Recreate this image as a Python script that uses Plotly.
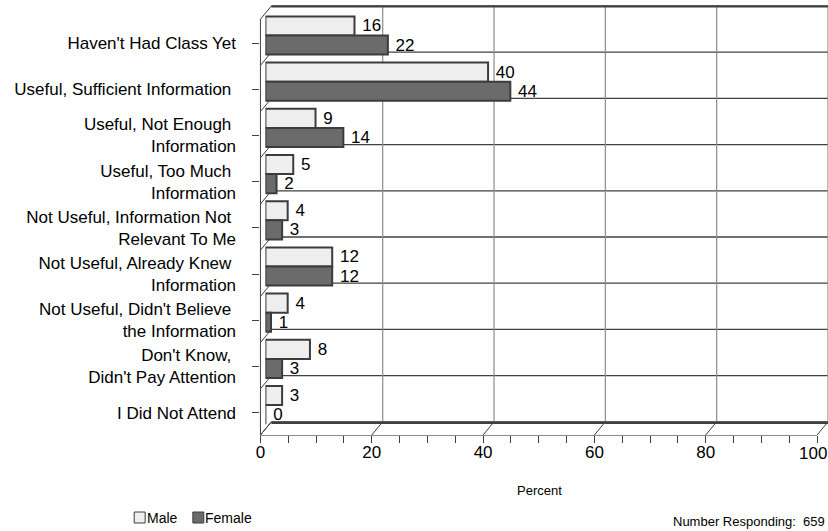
import plotly.graph_objects as go

NB = "\u00a0"
categories = [
    "Haven't Had Class Yet",
    "Useful, Sufficient Information" + NB,
    "Useful, Not Enough" + NB + "<br>Information",
    "Useful, Too Much" + NB + "<br>Information",
    "Not Useful, Information Not" + NB + "<br>Relevant To Me",
    "Not Useful, Already Knew" + NB + "<br>Information",
    "Not Useful, Didn't Believe" + NB + "<br>the Information",
    "Don't Know," + NB + "<br>Didn't Pay Attention",
    "I Did Not Attend",
]
male = [16, 40, 9, 5, 4, 12, 4, 8, 3]
female = [22, 44, 14, 2, 3, 12, 1, 3, 0]
x_ticks = [0, 20, 40, 60, 80, 100]

W, H = 828, 531
FONT = "Liberation Sans, Arial, sans-serif"

def px(x):
    return x / W

def py(y):
    return 1 - y / H

# geometry (pixels)
top_px, front_px = 6, 435
band = 46.2
back_floor_px = top_px + 9 * band
front_x0, front_x1 = 257, 817
bar_x0, bar_x1 = 262, 822
back_x0, back_x1 = 268, 828
depth_y = front_px - back_floor_px
plot_h = front_px - top_px

bar_top = -(35.5 - top_px) / band
bar_bot = bar_top + plot_h / band
lab_top = -(43 - top_px) / band
lab_bot = lab_top + plot_h / band

ydom = [py(front_px), py(top_px)]

idx = list(range(len(categories)))

fig = go.Figure()
fig.add_trace(go.Bar(
    y=idx, x=male, orientation="h", name="Male",
    xaxis="x2", yaxis="y",
    marker=dict(color="#eeeeee", line=dict(color="#3c3c3c", width=2)),
    texttemplate="\u00a0%{x}", textposition="outside",
    textfont=dict(family=FONT, size=17, color="#000"), cliponaxis=False,
    showlegend=False, hoverinfo="x+name",
))
fig.add_trace(go.Bar(
    y=idx, x=female, orientation="h", name="Female",
    xaxis="x2", yaxis="y",
    marker=dict(color="#6b6b6b", line=dict(color="#3c3c3c", width=2)),
    texttemplate="\u00a0%{x}", textposition="outside",
    textfont=dict(family=FONT, size=17, color="#000"), cliponaxis=False,
    showlegend=False, hoverinfo="x+name",
))
fig.add_trace(go.Scatter(x=[], y=[], xaxis="x", yaxis="y2", showlegend=False))

shapes = []
gray = "#8c8c8c"
dark = "#404040"
for k in range(10):
    yy = top_px + band * k
    shapes.append(dict(type="line", xref="paper", yref="paper",
                       x0=px(back_x0), x1=px(W), y0=py(yy), y1=py(yy),
                       line=dict(color=dark, width=1.3), layer="below"))
    shapes.append(dict(type="line", xref="paper", yref="paper",
                       x0=px(front_x0), x1=px(back_x0), y0=py(yy + depth_y), y1=py(yy),
                       line=dict(color=dark, width=1), layer="below"))
for t in x_ticks:
    xb = back_x0 + (back_x1 - back_x0) * t / 100
    xf = front_x0 + (front_x1 - front_x0) * t / 100
    if t > 0:
        shapes.append(dict(type="line", xref="paper", yref="paper",
                           x0=px(xb), x1=px(xb), y0=py(top_px), y1=py(back_floor_px),
                           line=dict(color=gray, width=1.2), layer="below"))
    shapes.append(dict(type="line", xref="paper", yref="paper",
                       x0=px(xf), x1=px(xb), y0=py(front_px), y1=py(back_floor_px),
                       line=dict(color=dark, width=1), layer="below"))
# floor back edge
shapes.append(dict(type="line", xref="paper", yref="paper",
                   x0=px(back_x0), x1=px(back_x1), y0=py(back_floor_px + 1), y1=py(back_floor_px + 1),
                   line=dict(color=dark, width=2.5), layer="below"))
# top edge
shapes.append(dict(type="line", xref="paper", yref="paper",
                   x0=px(back_x0), x1=px(W), y0=py(top_px + 0.5), y1=py(top_px + 0.5),
                   line=dict(color=dark, width=2), layer="below"))
# front-left edge of side wall
shapes.append(dict(type="line", xref="paper", yref="paper",
                   x0=px(front_x0), x1=px(front_x0), y0=py(top_px + depth_y), y1=py(front_px),
                   line=dict(color=dark, width=1), layer="below"))

# legend (manual)
shapes.append(dict(type="rect", xref="paper", yref="paper",
                   x0=px(130), x1=px(141), y0=py(523), y1=py(512),
                   fillcolor="#eeeeee", line=dict(color="#3c3c3c", width=1)))
shapes.append(dict(type="rect", xref="paper", yref="paper",
                   x0=px(189), x1=px(200), y0=py(523), y1=py(512),
                   fillcolor="#6b6b6b", line=dict(color="#3c3c3c", width=1)))

annotations = [
    dict(text="Male", xref="paper", yref="paper", x=px(141), y=py(518),
         xanchor="left", yanchor="middle", showarrow=False,
         font=dict(family=FONT, size=14, color="#000")),
    dict(text="Female", xref="paper", yref="paper", x=px(199), y=py(518),
         xanchor="left", yanchor="middle", showarrow=False,
         font=dict(family=FONT, size=14, color="#000")),
    dict(text="Percent", xref="paper", yref="paper", x=px(538), y=py(490),
         xanchor="center", yanchor="middle", showarrow=False,
         font=dict(family=FONT, size=13, color="#000")),
    dict(text="Number Responding:  659", xref="paper", yref="paper", x=px(827), y=py(521),
         xanchor="right", yanchor="middle", showarrow=False,
         font=dict(family=FONT, size=13, color="#000")),
    # last tick label, kept inside the page (reference shows it cut at the edge)
    dict(text=str(x_ticks[-1]), xref="x", yref="paper", x=x_ticks[-1], y=py(453),
         xanchor="right", yanchor="middle", xshift=W - front_x1 + 1, showarrow=False,
         font=dict(family=FONT, size=17, color="#000")),
]

tick_text = [str(t) for t in x_ticks[:-1]] + [""]

fig.update_layout(
    width=W, height=H,
    margin=dict(l=0, r=0, t=0, b=0),
    paper_bgcolor="white", plot_bgcolor="rgba(0,0,0,0)",
    barmode="group", bargap=8 / 46, bargroupgap=0,
    showlegend=False,
    font=dict(family=FONT, size=14, color="#000"),
    shapes=shapes, annotations=annotations,
    xaxis=dict(domain=[px(front_x0), px(front_x1)], range=[0, 100.0001], anchor="y2",
               tickvals=x_ticks, ticktext=tick_text, ticks="outside", ticklen=7, tickcolor=dark,
               minor=dict(dtick=5, ticks="outside", ticklen=7, tickcolor=dark, showgrid=False),
               showline=True, linecolor=gray, linewidth=1, showgrid=False, zeroline=False,
               tickfont=dict(family=FONT, size=17, color="#000"), ticklabelstandoff=-5),
    xaxis2=dict(domain=[px(bar_x0), px(bar_x1)], range=[0, 100], anchor="y",
                visible=False, showgrid=False, zeroline=False),
    yaxis=dict(domain=ydom, range=[bar_bot, bar_top], anchor="x2",
               visible=False, showgrid=False, zeroline=False),
    yaxis2=dict(domain=ydom, range=[lab_bot, lab_top], anchor="x",
                tickvals=idx, ticktext=categories, ticks="outside", ticklen=7,
                tickcolor=dark, showline=False,
                showgrid=False, zeroline=False, ticklabelstandoff=13,
                tickfont=dict(family=FONT, size=17, color="#000")),
)

fig.write_html("out.html")
